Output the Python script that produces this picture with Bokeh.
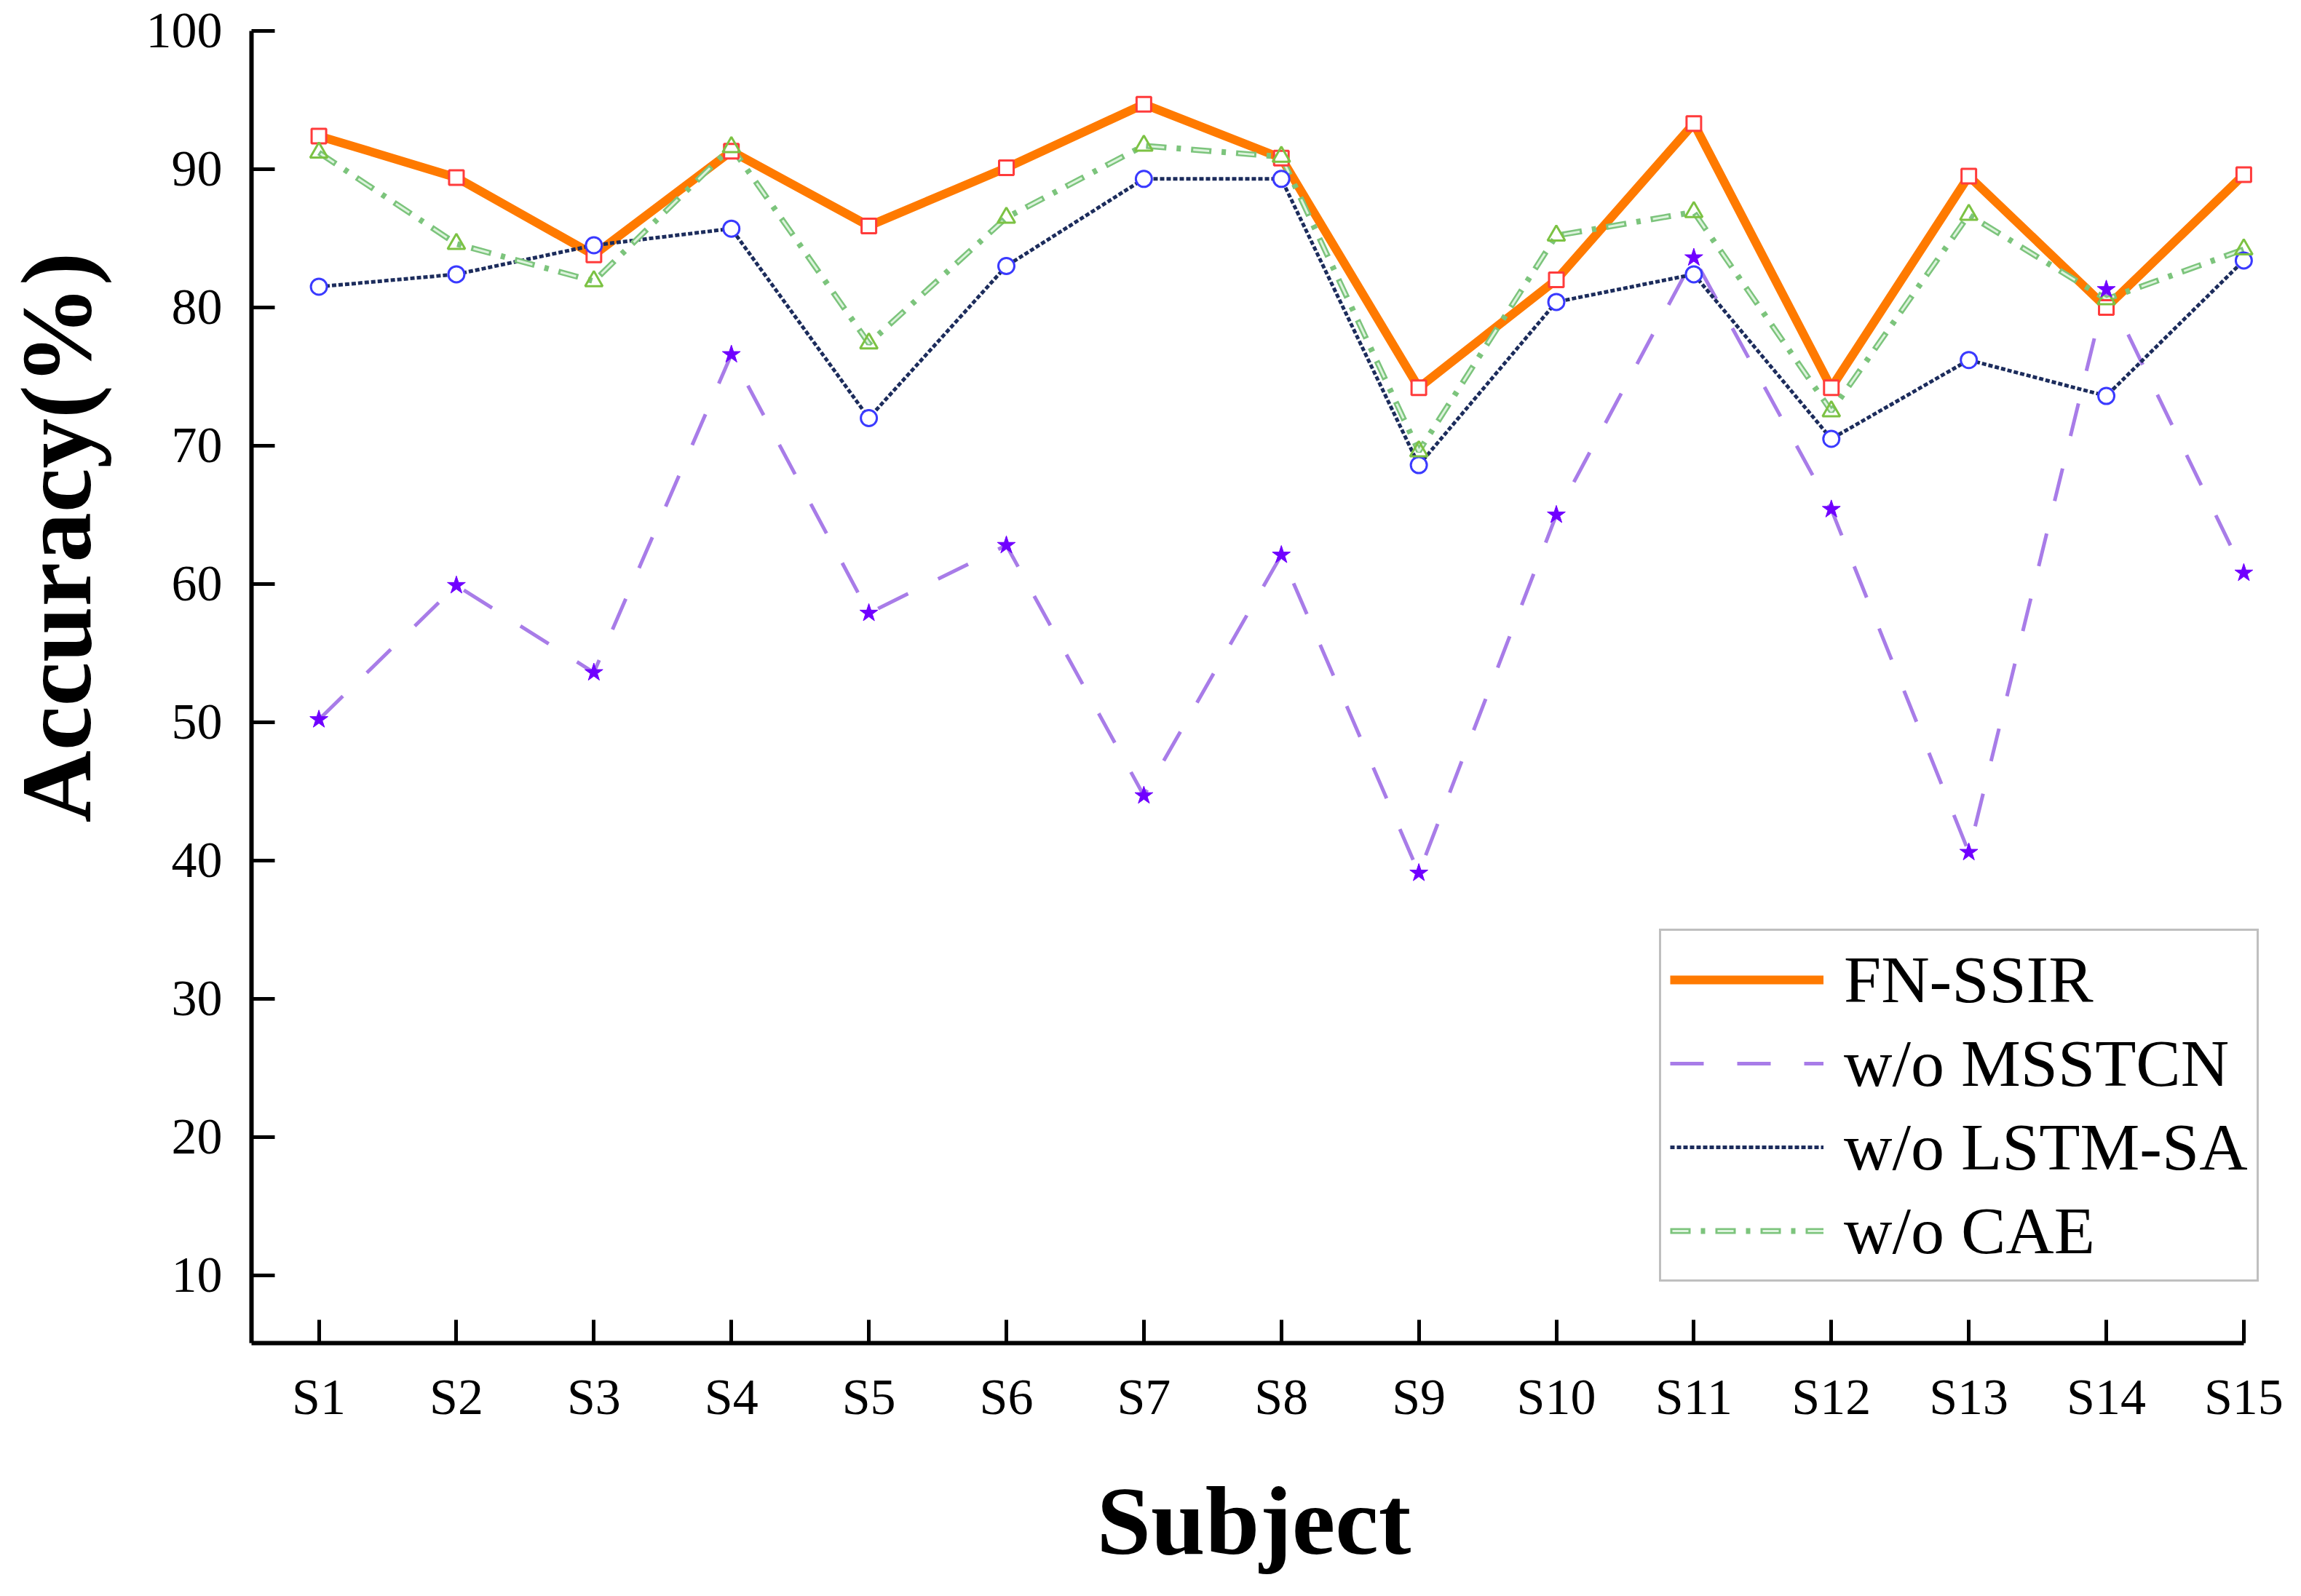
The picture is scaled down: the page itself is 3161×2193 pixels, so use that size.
import math
from bokeh.plotting import figure
from bokeh.models import Range1d, FixedTicker, Label, Legend, LegendItem
from bokeh.embed import file_html
from bokeh.resources import INLINE

# ---------------- data ----------------
subjects = ["S1", "S2", "S3", "S4", "S5", "S6", "S7", "S8", "S9", "S10",
            "S11", "S12", "S13", "S14", "S15"]
fn_ssir = [92.4, 89.4, 83.8, 91.3, 85.9, 90.1, 94.7, 90.8, 74.2, 82.0,
           93.3, 74.2, 89.5, 80.0, 89.6]
wo_msstcn = [50.2, 59.9, 53.6, 76.6, 57.9, 62.8, 44.7, 62.1, 39.1, 65.0,
             83.6, 65.4, 40.6, 81.3, 60.8]
wo_lstm_sa = [81.5, 82.4, 84.5, 85.7, 72.0, 83.0, 89.3, 89.3, 68.6, 80.4,
              82.4, 70.5, 76.2, 73.6, 83.4]
wo_cae = [91.2, 84.6, 81.9, 91.6, 77.4, 86.5, 91.7, 90.9, 69.6, 85.2,
          86.9, 72.5, 86.7, 80.6, 84.2]
y_ticks = [10, 20, 30, 40, 50, 60, 70, 80, 90, 100]
series_names = ["FN-SSIR", "w/o MSSTCN", "w/o LSTM-SA", "w/o CAE"]

x = list(range(1, len(subjects) + 1))

FONT = "Liberation Serif"

# whole canvas is the frame; axes are pinned with fixed_location
X0, X1 = -1.3167, 15.334
Y0, Y1 = -12.37, 102.21
XAX_Y = 5.11      # where the x axis sits
YAX_X = 0.51      # where the y axis sits

p = figure(width=3145, height=2177, output_backend="svg", toolbar_location=None,
           title_location=None,
           x_range=Range1d(X0, X1), y_range=Range1d(Y0, Y1),
           min_border=0, min_border_left=0, min_border_right=0,
           min_border_top=0, min_border_bottom=0)
p.background_fill_color = "white"
p.border_fill_color = "white"
p.outline_line_color = None
p.xgrid.grid_line_color = None
p.ygrid.grid_line_color = None

# axes
for ax in (p.xaxis[0], p.yaxis[0]):
    ax.axis_line_width = 6
    ax.axis_line_color = "black"
    ax.major_tick_line_width = 5
    ax.major_tick_line_color = "black"
    ax.major_tick_in = 32
    ax.major_tick_out = 0
    ax.minor_tick_line_color = None
    ax.major_label_text_font = FONT
    ax.major_label_text_font_size = "70px"
    ax.major_label_text_color = "black"

p.xaxis.fixed_location = XAX_Y
p.xaxis.ticker = FixedTicker(ticks=x)
p.xaxis.major_label_overrides = {i: s for i, s in zip(x, subjects)}
p.xaxis.bounds = (YAX_X, 15)
p.xaxis.major_label_standoff = 36

p.yaxis.fixed_location = YAX_X
p.yaxis.ticker = FixedTicker(ticks=y_ticks)
p.yaxis.bounds = (XAX_Y, 100)
p.yaxis.major_label_standoff = 40

# axis titles
p.add_layout(Label(x=7.80, y=-7.74, text="Subject",
                   text_font=FONT, text_font_style="bold", text_font_size="134px",
                   text_align="center", text_baseline="middle", text_color="black"))
p.add_layout(Label(x=-0.909, y=63.37, text="Accuracy(%)", angle=math.pi / 2,
                   text_font=FONT, text_font_style="bold", text_font_size="137px",
                   text_align="center", text_baseline="middle", text_color="black"))

# lines
r_fn = p.line(x, fn_ssir, line_color="#FF7A00", line_width=12, line_join="round")
r_ms = p.line(x, wo_msstcn, line_color="#A87CE8", line_width=5, line_dash="46 46")
r_ls = p.line(x, wo_lstm_sa, line_color="#1C2C5C", line_width=5, line_dash="6 3")
r_cae1 = p.line(x, wo_cae, line_color="#7CC47C", line_width=8, line_dash="28 14 6 14")
r_cae2 = p.line(x, wo_cae, line_color="#DDF3DD", line_width=3, line_dash="0 3 22 37")

# markers
p.scatter(x, fn_ssir, marker="square", size=20, line_color="#FF3B3B",
          line_width=3, fill_color="white")
p.scatter(x, wo_lstm_sa, marker="circle", size=22, line_color="#3A3AFF",
          line_width=3, fill_color="white")
p.scatter(x, wo_cae, marker="triangle", size=24, line_color="#7CC243",
          line_width=3, fill_alpha=0)
p.scatter(x, wo_msstcn, marker="star", size=26, line_color="#7000FF",
          fill_color="#7000FF", line_width=1)

legend = Legend(items=[
    LegendItem(label=series_names[0], renderers=[r_fn]),
    LegendItem(label=series_names[1], renderers=[r_ms]),
    LegendItem(label=series_names[2], renderers=[r_ls]),
    LegendItem(label=series_names[3], renderers=[r_cae1, r_cae2]),
], location=(2279, 416))
legend.label_text_font = FONT
legend.label_text_font_size = "92px"
legend.label_text_color = "black"
legend.glyph_width = 211
legend.glyph_height = 40
legend.label_height = 110
legend.spacing = 5
legend.padding = 12
legend.margin = 0
legend.label_standoff = 28
legend.border_line_color = "#7f7f7f"
legend.border_line_width = 3
legend.background_fill_color = "white"
legend.background_fill_alpha = 1
p.add_layout(legend, "center")

open("out.html", "w").write(file_html(p, INLINE))
